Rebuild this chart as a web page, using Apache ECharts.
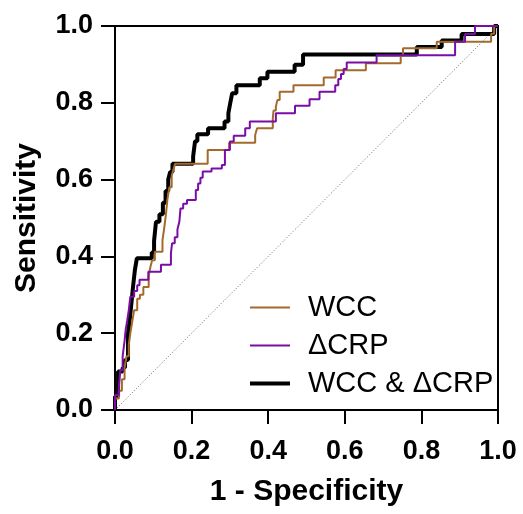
<!DOCTYPE html>
<html>
<head>
<meta charset="utf-8">
<script src="https://cdn.jsdelivr.net/npm/echarts@6/dist/echarts.min.js"></script>
<style>
  html, body { margin: 0; padding: 0; background: #fff; }
  #chart { width: 523px; height: 514px; }
</style>
</head>
<body>
<div id="chart"></div>
<script>
// ROC points: [1 - specificity, sensitivity]; each point = x where the curve rises, new level
const seriesNames = ['WCC', '\u0394CRP', 'WCC & \u0394CRP'];

const wccPoints = [
  [0,0],[0,0.03],[0.01,0.05],[0.018,0.08],[0.025,0.11],[0.03,0.14],[0.036,0.17],[0.04,0.2],
  [0.045,0.23],[0.05,0.26],[0.058,0.29],[0.065,0.30],[0.074,0.32],[0.088,0.35],[0.093,0.375],
  [0.097,0.39],[0.104,0.412],[0.124,0.443],[0.128,0.47],[0.133,0.51],[0.137,0.55],[0.142,0.58],
  [0.148,0.61],[0.152,0.625],[0.157,0.641],[0.242,0.677],[0.298,0.696],[0.366,0.716],[0.371,0.734],
  [0.412,0.76],[0.414,0.78],[0.42,0.79],[0.424,0.807],[0.43,0.829],[0.466,0.846],[0.545,0.866],
  [0.576,0.885],[0.655,0.903],[0.746,0.924],[0.752,0.942],[0.84,0.959],[0.982,0.98],[0.99,1.0],[1,1]
];

const crpPoints = [
  [0,0],[0,0.039],[0.01,0.06],[0.014,0.104],[0.02,0.14],[0.025,0.18],[0.028,0.21],[0.032,0.234],
  [0.036,0.26],[0.04,0.295],[0.05,0.31],[0.058,0.325],[0.064,0.339],[0.087,0.36],[0.12,0.378],
  [0.146,0.408],[0.149,0.434],[0.156,0.45],[0.163,0.47],[0.168,0.49],[0.171,0.525],[0.178,0.537],
  [0.188,0.547],[0.211,0.573],[0.217,0.59],[0.223,0.605],[0.229,0.621],[0.252,0.629],[0.279,0.638],
  [0.287,0.677],[0.30,0.699],[0.31,0.714],[0.34,0.734],[0.352,0.751],[0.42,0.773],[0.47,0.792],
  [0.508,0.809],[0.534,0.829],[0.575,0.846],[0.583,0.862],[0.59,0.875],[0.597,0.888],[0.605,0.905],
  [0.683,0.924],[0.888,0.959],[0.914,0.979],[0.94,1.0],[1,1]
];

const comboPoints = [
  [0,0],[0,0.035],[0.008,0.10],[0.02,0.11],[0.026,0.13],[0.034,0.20],[0.039,0.24],[0.043,0.28],
  [0.047,0.32],[0.052,0.365],[0.057,0.395],[0.096,0.41],[0.102,0.44],[0.107,0.49],[0.116,0.51],
  [0.125,0.54],[0.132,0.57],[0.139,0.60],[0.144,0.62],[0.150,0.641],[0.204,0.66],[0.209,0.70],
  [0.215,0.718],[0.243,0.734],[0.286,0.751],[0.296,0.773],[0.301,0.80],[0.306,0.825],[0.317,0.846],
  [0.378,0.864],[0.398,0.881],[0.469,0.899],[0.491,0.926],[0.788,0.945],[0.853,0.962],[0.905,0.979],
  [0.99,1.0],[1,1]
];

const referenceLine = [[0,0],[1,1]];
const tickValues = [0, 0.2, 0.4, 0.6, 0.8, 1.0];

const FONT = '"Liberation Sans", Arial, sans-serif';
const COLORS = ['#A36A2C', '#7A0DA5', '#000000'];
const WIDTHS = [2, 2, 4];
const chart = echarts.init(document.getElementById('chart'), null, { renderer: 'canvas' });

const axisCommon = {
  type: 'value', min: 0, max: 1, interval: 0.2,
  splitLine: { show: false },
  axisLine: { show: true, lineStyle: { color: '#000', width: 2 } },
  axisTick: { show: true, length: 14, lineStyle: { color: '#000', width: 2 } },
  nameLocation: 'middle',
  nameTextStyle: { fontFamily: FONT, fontWeight: 'bold', fontSize: 30, color: '#000' }
};

chart.setOption({
  animation: false,
  backgroundColor: '#fff',
  grid: { left: 115, top: 26, width: 383, height: 384, show: true, borderColor: '#000', borderWidth: 2 },
  xAxis: Object.assign({}, axisCommon, {
    name: '1 - Specificity', nameGap: 67,
    axisLabel: { margin: 28, fontFamily: FONT, fontWeight: 'bold', fontSize: 27, color: '#000',
      formatter: v => v.toFixed(1) }
  }),
  yAxis: Object.assign({}, axisCommon, {
    name: 'Sensitivity', nameGap: 73,
    axisLabel: { margin: 22, fontFamily: FONT, fontWeight: 'bold', fontSize: 27, color: '#000',
      formatter: v => v.toFixed(1) }
  }),
  legend: {
    data: seriesNames.map((n, i) => ({
      name: n,
      lineStyle: { width: WIDTHS[i], color: COLORS[i] }
    })),
    orient: 'vertical',
    left: 243, top: 288,
    itemWidth: 40, itemHeight: 14, itemGap: 9,
    itemStyle: { opacity: 0 },
    textStyle: { fontFamily: FONT, fontSize: 29, color: '#000', padding: [0, 0, 0, 13], lineHeight: 29 }
  },
  series: [
    {
      name: 'ref', type: 'line', data: referenceLine, showSymbol: false, symbol: 'none', silent: true,
      lineStyle: { color: '#666', width: 1, type: [1, 2] }, z: 1
    },
    {
      name: seriesNames[2], type: 'line', data: comboPoints, step: 'end', symbol: 'none',
      lineStyle: { color: COLORS[2], width: WIDTHS[2] }, itemStyle: { color: COLORS[2] }, z: 2
    },
    {
      name: seriesNames[0], type: 'line', data: wccPoints, step: 'end', symbol: 'none',
      lineStyle: { color: COLORS[0], width: WIDTHS[0] }, itemStyle: { color: COLORS[0] }, z: 3
    },
    {
      name: seriesNames[1], type: 'line', data: crpPoints, step: 'end', symbol: 'none',
      lineStyle: { color: COLORS[1], width: WIDTHS[1] }, itemStyle: { color: COLORS[1] }, z: 4
    }
  ]
});
</script>
</body>
</html>
